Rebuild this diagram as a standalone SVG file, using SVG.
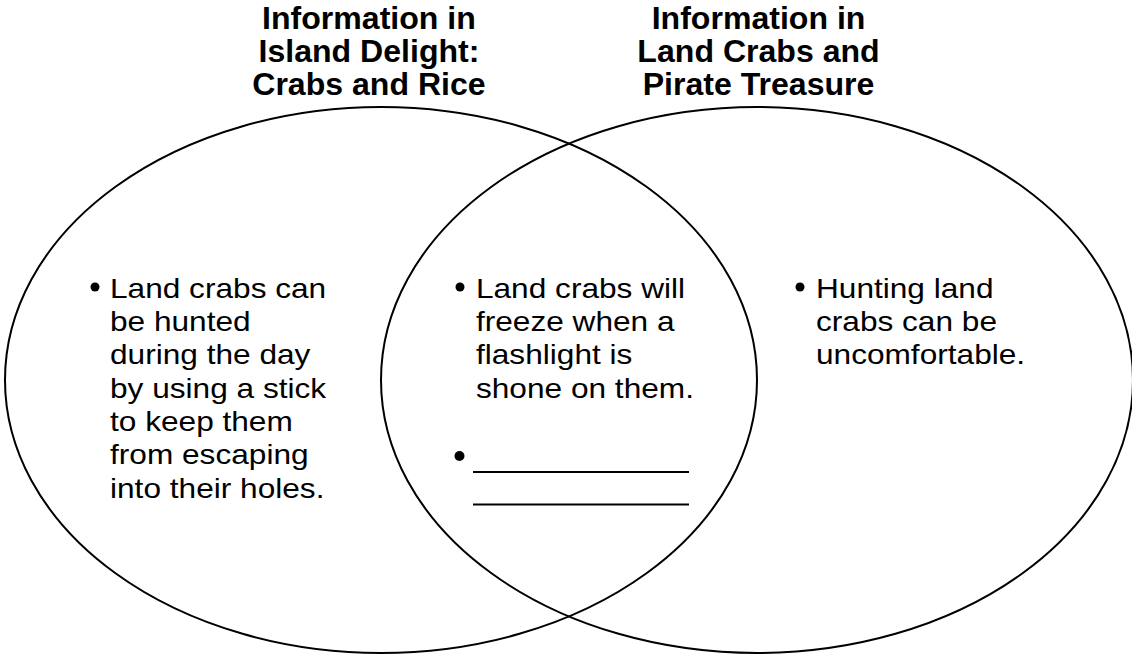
<svg xmlns="http://www.w3.org/2000/svg" width="1132" height="655" viewBox="0 0 1132 655">
<style>
.circ{fill:none;stroke:#000;stroke-width:2}
.title{font-family:"Liberation Sans",Arial,sans-serif;font-weight:bold;font-size:31px;fill:#000;text-anchor:middle}
.body{font-family:"Liberation Sans",Arial,sans-serif;font-size:28.5px;fill:#000}
.blank{stroke:#000;stroke-width:2}
</style>
<rect width="1132" height="655" fill="#fff"/>
<g id="left-set">
<ellipse class="circ" cx="381" cy="380" rx="376" ry="273"/>
<text class="title" transform="scale(1.035,1)"><tspan x="356.5" y="29.3">Information in</tspan><tspan x="356.5" y="62.3">Island Delight:</tspan><tspan x="356.5" y="95.3">Crabs and Rice</tspan></text>
<circle cx="95" cy="287" r="4.5"/>
<text class="body" transform="scale(1.11,1)"><tspan x="99.1" y="297.7">Land crabs can</tspan><tspan x="99.1" y="331">be hunted</tspan><tspan x="99.1" y="364.3">during the day</tspan><tspan x="99.1" y="397.7">by using a stick</tspan><tspan x="99.1" y="431">to keep them</tspan><tspan x="99.1" y="464.3">from escaping</tspan><tspan x="99.1" y="497.7">into their holes.</tspan></text>
</g>
<g id="right-set">
<ellipse class="circ" cx="757" cy="380" rx="376" ry="273"/>
<text class="title" transform="scale(1.035,1)"><tspan x="732.9" y="29.3">Information in</tspan><tspan x="732.9" y="62.3">Land Crabs and</tspan><tspan x="732.9" y="95.3">Pirate Treasure</tspan></text>
<circle cx="800" cy="287" r="4.5"/>
<text class="body" transform="scale(1.11,1)"><tspan x="735.1" y="297.7">Hunting land</tspan><tspan x="735.1" y="331">crabs can be</tspan><tspan x="735.1" y="364.3">uncomfortable.</tspan></text>
</g>
<g id="overlap">
<circle cx="460" cy="287" r="4.5"/>
<text class="body" transform="scale(1.11,1)"><tspan x="428.8" y="297.7">Land crabs will</tspan><tspan x="428.8" y="331">freeze when a</tspan><tspan x="428.8" y="364.3">flashlight is</tspan><tspan x="428.8" y="397.7">shone on them.</tspan></text>
<circle cx="459.5" cy="456" r="5"/>
<line class="blank" x1="473" y1="472" x2="689" y2="472"/>
<line class="blank" x1="473" y1="504.5" x2="689" y2="504.5"/>
</g>
<g id="connectors"/>
</svg>
